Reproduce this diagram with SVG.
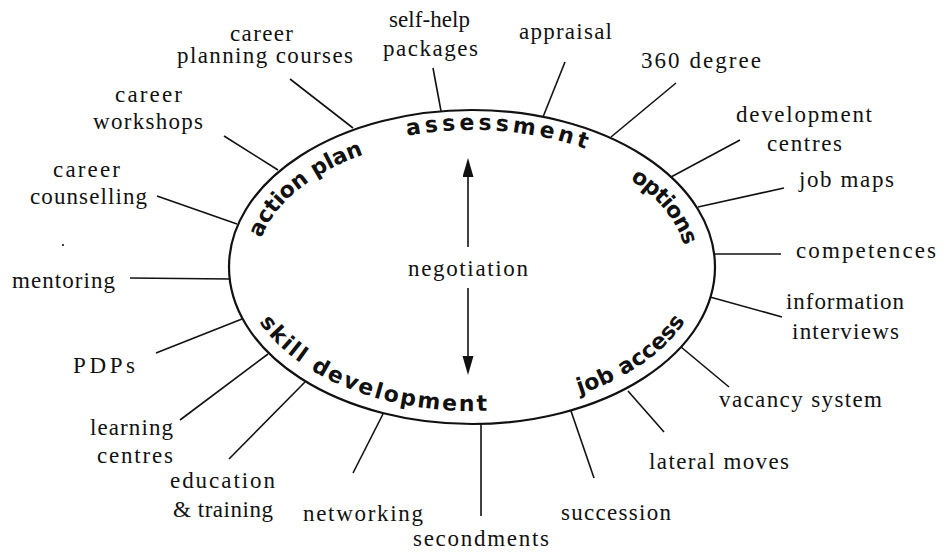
<svg xmlns="http://www.w3.org/2000/svg" width="948" height="552" viewBox="0 0 948 552">
<style>
.lbl{font-family:"Liberation Serif","Times New Roman",serif;font-size:23px;fill:#111}
.ring{font-family:"DejaVu Sans","Liberation Sans",sans-serif;font-weight:bold;font-size:22px;fill:#111}
.spoke{stroke:#111;stroke-width:1.6;fill:none}
.oval{stroke:#111;stroke-width:2.2;fill:#fff}
.arr{stroke:#111;stroke-width:1.6;fill:none}
</style>
<defs>
<marker id="ah" markerUnits="userSpaceOnUse" markerWidth="20" markerHeight="12" refX="1" refY="5.5" orient="auto">
<path d="M0,0 L19,5.5 L0,11 z" fill="#111"/>
</marker>
<path id="p-action" d="M261.4,238.3 A216,130 0 0 1 580,154.4"/>
<path id="p-assess" d="M407.4,135.8 A223,137 0 0 1 681.6,220.1"/>
<path id="p-options" d="M629.9,179.5 A215,129 0 0 1 674,311.1"/>
<path id="p-skill" d="M259.4,322 A230,144 0 0 0 648.2,359.6"/>
<path id="p-job" d="M579.6,394.3 A230,144 0 0 0 671.2,195"/>
</defs>
<rect width="948" height="552" fill="#fff"/>

<g id="connectors">
<line class="spoke" x1="290" y1="79" x2="353" y2="128"/>
<line class="spoke" x1="433" y1="68" x2="441" y2="111"/>
<line class="spoke" x1="224" y1="136" x2="278" y2="170"/>
<line class="spoke" x1="157" y1="196" x2="237" y2="224"/>
<line class="spoke" x1="130" y1="278" x2="230" y2="279"/>
<line class="spoke" x1="156" y1="353" x2="242" y2="319"/>
<line class="spoke" x1="180" y1="420" x2="268" y2="354"/>
<line class="spoke" x1="229" y1="459" x2="305" y2="382"/>
<line class="spoke" x1="353" y1="473" x2="383" y2="414"/>
<line class="spoke" x1="481" y1="424" x2="481" y2="516"/>
<line class="spoke" x1="571" y1="411" x2="594" y2="478"/>
<line class="spoke" x1="628" y1="391" x2="664" y2="432"/>
<line class="spoke" x1="681" y1="347" x2="729" y2="387"/>
<line class="spoke" x1="710" y1="297" x2="782" y2="317"/>
<line class="spoke" x1="713" y1="254" x2="781" y2="254"/>
<line class="spoke" x1="698" y1="207" x2="784" y2="188"/>
<line class="spoke" x1="671" y1="177" x2="740" y2="140"/>
<line class="spoke" x1="611" y1="137" x2="676" y2="83"/>
<line class="spoke" x1="543" y1="117" x2="565" y2="62"/>
</g>

<g id="cycle">
<ellipse class="oval" cx="472" cy="267" rx="243" ry="157"/>
<text class="ring" font-size="20.5" letter-spacing="-0.2"><textPath href="#p-action">action plan</textPath></text>
<text class="ring" font-size="23" letter-spacing="3.8"><textPath href="#p-assess">assessment</textPath></text>
<text class="ring" font-size="20.5" letter-spacing="-0.9"><textPath href="#p-options">options</textPath></text>
<text class="ring" letter-spacing="2.1"><textPath href="#p-skill">skill development</textPath></text>
<text class="ring" letter-spacing="0.3"><textPath href="#p-job">job access</textPath></text>
</g>

<g id="negotiation">
<line class="arr" x1="468" y1="247" x2="468" y2="176" marker-end="url(#ah)"/>
<line class="arr" x1="468" y1="288" x2="468" y2="357" marker-end="url(#ah)"/>
<text class="lbl" x="408" y="276" textLength="120" lengthAdjust="spacing">negotiation</text>
</g>

<g id="n-career-planning">
<text class="lbl" x="230" y="40.7" textLength="63" lengthAdjust="spacing">career</text>
<text class="lbl" x="177" y="63.3" textLength="176" lengthAdjust="spacing">planning courses</text>
</g>
<g id="n-self-help">
<text class="lbl" x="389" y="27" textLength="81" lengthAdjust="spacing">self-help</text>
<text class="lbl" x="383" y="56" textLength="95" lengthAdjust="spacing">packages</text>
</g>
<g id="n-appraisal"><text class="lbl" x="519" y="39.3" textLength="93" lengthAdjust="spacing">appraisal</text></g>
<g id="n-360"><text class="lbl" x="641" y="68.3" textLength="120" lengthAdjust="spacing">360 degree</text></g>
<g id="n-dev-centres">
<text class="lbl" x="736" y="121.7" textLength="136" lengthAdjust="spacing">development</text>
<text class="lbl" x="767" y="150.7" textLength="75" lengthAdjust="spacing">centres</text>
</g>
<g id="n-job-maps"><text class="lbl" x="799" y="186.7" textLength="95" lengthAdjust="spacing">job maps</text></g>
<g id="n-competences"><text class="lbl" x="796" y="258" textLength="140" lengthAdjust="spacing">competences</text></g>
<g id="n-info-interviews">
<text class="lbl" x="786" y="308.7" textLength="118" lengthAdjust="spacing">information</text>
<text class="lbl" x="792" y="339.3" textLength="107" lengthAdjust="spacing">interviews</text>
</g>
<g id="n-vacancy"><text class="lbl" x="719" y="406.7" textLength="163" lengthAdjust="spacing">vacancy system</text></g>
<g id="n-lateral"><text class="lbl" x="649" y="468.7" textLength="140" lengthAdjust="spacing">lateral moves</text></g>
<g id="n-succession"><text class="lbl" x="561" y="520" textLength="110" lengthAdjust="spacing">succession</text></g>
<g id="n-secondments"><text class="lbl" x="413" y="546" textLength="136" lengthAdjust="spacing">secondments</text></g>
<g id="n-networking"><text class="lbl" x="303" y="521" textLength="120" lengthAdjust="spacing">networking</text></g>
<g id="n-education">
<text class="lbl" x="170" y="487.7" textLength="105" lengthAdjust="spacing">education</text>
<text class="lbl" x="173" y="516.7" textLength="100" lengthAdjust="spacing">&amp; training</text>
</g>
<g id="n-learning">
<text class="lbl" x="90" y="435" textLength="83" lengthAdjust="spacing">learning</text>
<text class="lbl" x="97" y="463.3" textLength="76" lengthAdjust="spacing">centres</text>
</g>
<g id="n-pdps"><text class="lbl" x="73" y="372.7" font-size="25" textLength="62" lengthAdjust="spacing">PDPs</text></g>
<g id="n-mentoring"><text class="lbl" x="12" y="287.5" textLength="103" lengthAdjust="spacing">mentoring</text></g>
<g id="n-counselling">
<text class="lbl" x="53" y="176.7" textLength="67" lengthAdjust="spacing">career</text>
<text class="lbl" x="30" y="204" textLength="117" lengthAdjust="spacing">counselling</text>
</g>
<g id="n-workshops">
<text class="lbl" x="115" y="101.7" textLength="67" lengthAdjust="spacing">career</text>
<text class="lbl" x="93" y="129" textLength="110" lengthAdjust="spacing">workshops</text>
</g>
<circle cx="63" cy="245" r="1.1" fill="#111"/>
</svg>
